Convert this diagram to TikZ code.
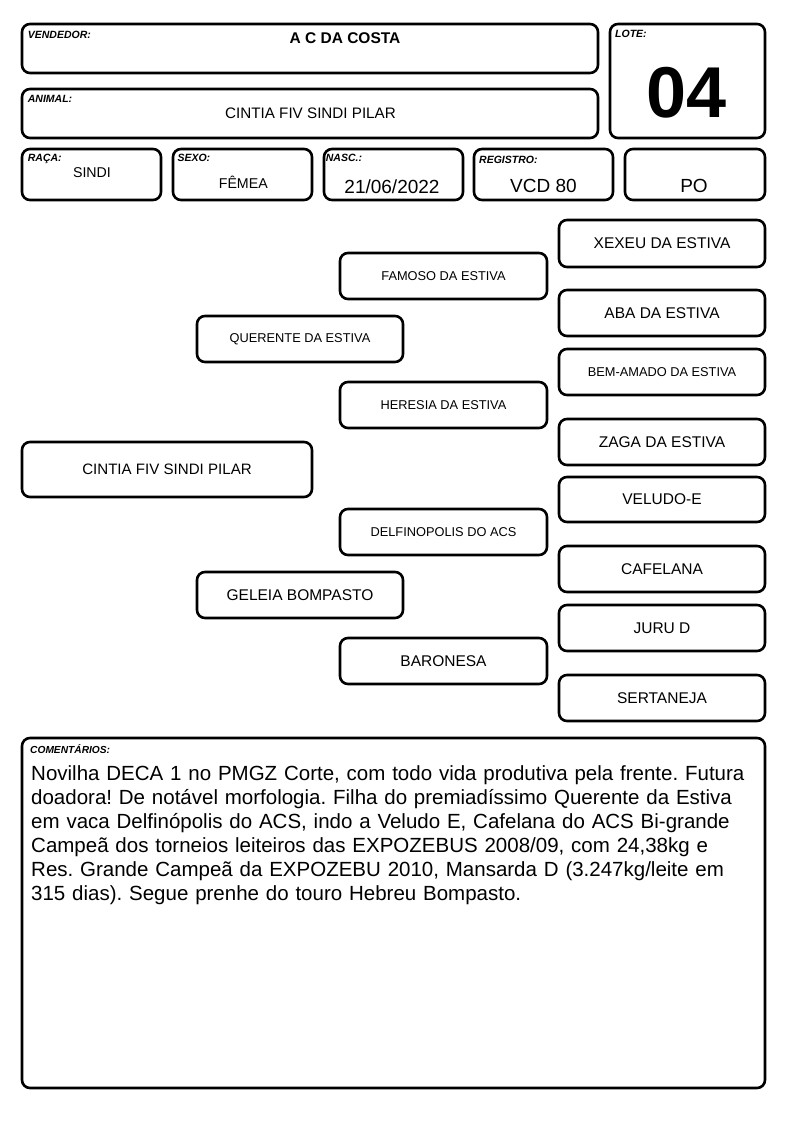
\documentclass[tikz,border=0pt]{standalone}
\usepackage{fontspec}
\setmainfont{Liberation Sans}
\frenchspacing
\newcommand\fsz[1]{\fontsize{#1}{#1}\selectfont}
\newcommand\bx[7]{\node[box,#6,minimum width={#4-#2},minimum height={#5-#3}] (#1) at ({(#2+#4)/2},{(#3+#5)/2}) {#7};}
\tikzset{
  box/.style={draw=black,line width=2.6pt,rounded corners=8pt,inner sep=0pt,fill=white},
  lab/.style={anchor=base west,inner sep=0pt,font=\fsz{10.5}\bfseries\itshape},
  big/.style={font=\fsz{15.5}},
  small/.style={font=\fsz{12.8}},
  val/.style={anchor=base,inner sep=0pt},
}
\begin{document}
\begin{tikzpicture}[x=1pt,y=-1pt]
\useasboundingbox[fill=white] (0,0) rectangle (794,1123);
% header
\bx{vend}{22}{24}{598}{73}{}{}
\bx{anim}{22}{89}{598}{138}{}{}
\bx{lote}{610}{24}{765}{138}{}{}
\bx{raca}{22}{149}{161}{200}{}{}
\bx{sexo}{173}{149}{312}{200}{}{}
\bx{nasc}{324}{149}{463}{200}{}{}
\bx{reg}{474}{149}{613}{200}{}{}
\bx{po}{625}{149}{765}{200}{}{}
\node[lab] (vendl) at (27.7,38.7) {VENDEDOR:};
\node[val,font=\fsz{15.5}\bfseries] (vendv) at (345,43.3) {A C DA COSTA};
\node[lab] (animl) at (27.7,102.7) {ANIMAL:};
\node[val,font=\fsz{15.2}] (animv) at (310.5,118.7) {CINTIA FIV SINDI PILAR};
\node[lab] (lotel) at (615,38) {LOTE:};
\node[val,font=\fsz{72}\bfseries] (lotev) at (687,118) {04};
\node[lab] (racal) at (27.7,162) {RAÇA:};
\node[val,font=\fsz{14.2}] (racav) at (92,178) {SINDI};
\node[lab] (sexol) at (177.3,162) {SEXO:};
\node[val,font=\fsz{14.2}] (sexov) at (243.3,189) {FÊMEA};
\node[lab] (nascl) at (325.7,162) {NASC.:};
\node[val,font=\fsz{19}] (nascv) at (392,193.5) {21/06/2022};
\node[lab] (regl) at (479,164) {REGISTRO:};
\node[val,font=\fsz{19}] (regv) at (543.5,193) {VCD 80};
\node[val,font=\fsz{19}] (pov) at (694,193) {PO};
% pedigree
\bx{p1}{22}{442}{312}{497}{font=\fsz{15.1}}{CINTIA FIV SINDI PILAR}
\bx{s}{197}{316}{403}{362}{small}{QUERENTE DA ESTIVA}
\bx{d}{197}{572}{403}{618}{big}{GELEIA BOMPASTO}
\bx{ss}{340}{253}{547}{299}{small}{FAMOSO DA ESTIVA}
\bx{sd}{340}{382}{547}{428}{small}{HERESIA DA ESTIVA}
\bx{ds}{340}{509}{547}{555}{small}{DELFINOPOLIS DO ACS}
\bx{dd}{340}{638}{547}{684}{big}{BARONESA}
\bx{sss}{559}{220}{765}{267}{big}{XEXEU DA ESTIVA}
\bx{ssd}{559}{290}{765}{336}{big}{ABA DA ESTIVA}
\bx{sds}{559}{349}{765}{395}{small}{BEM-AMADO DA ESTIVA}
\bx{sdd}{559}{419}{765}{465}{big}{ZAGA DA ESTIVA}
\bx{dss}{559}{477}{765}{522}{big}{VELUDO-E}
\bx{dsd}{559}{546}{765}{592}{big}{CAFELANA}
\bx{dds}{559}{605}{765}{651}{big}{JURU D}
\bx{ddd}{559}{675}{765}{721}{big}{SERTANEJA}
% comments
\bx{com}{22}{738}{765}{1088}{}{}
\node[lab,font=\fsz{10.2}\bfseries\itshape] (coml) at (30,753.3) {COMENTÁRIOS:};
\node[anchor=base west,inner sep=0pt,text width=730pt,align=left,font=\fontsize{20.5}{24}\selectfont] (comv) at (31,780.5) {Novilha DECA 1 no PMGZ Corte, com todo vida produtiva pela frente. Futura\\doadora! De notável morfologia. Filha do premiadíssimo Querente da Estiva\\em vaca Delfinópolis do ACS, indo a Veludo E, Cafelana do ACS Bi-grande\\Campeã dos torneios leiteiros das EXPOZEBUS 2008/09, com 24,38kg e\\Res. Grande Campeã da EXPOZEBU 2010, Mansarda D (3.247kg/leite em\\315 dias). Segue prenhe do touro Hebreu Bompasto.};
\end{tikzpicture}
\end{document}
